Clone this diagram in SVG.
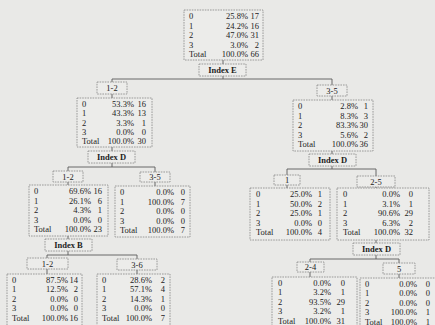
<svg xmlns="http://www.w3.org/2000/svg" width="435" height="325" viewBox="0 0 435 325">
  <style>
    .bg { fill: #e9e9e7; }
    .tbl, .lbl, .idx { fill: #ececea; stroke: #858585; stroke-width: 0.8; stroke-dasharray: 1.6 1; }
    .ln { stroke: #5a5a5a; stroke-width: 0.9; fill: none; }
    text { font-family: "Liberation Serif", "Times New Roman", serif; font-size: 8.5px; fill: #222; }
    .r { text-anchor: end; }
    .m { text-anchor: middle; }
    .b { font-weight: bold; }
  </style>
  <rect class="bg" x="0" y="0" width="435" height="325"/>

  <!-- connectors -->
  <g id="connectors">
    <path class="ln" d="M223 60V64M223 76V79M112 79H332M112 79V82M332 79V85"/>
    <path class="ln" d="M112 94V98M112 147V151M112 163V167M68 167H155M68 167V171M155 167V172M68 182V185M155 182V186"/>
    <path class="ln" d="M68 236V239M68 251V255M47 255H137M47 255V258M137 255V259M47 269V274M137 270V274"/>
    <path class="ln" d="M332 96V100M332 151V154M332 166V169M287 169H376M287 169V175M376 169V176M287 185V188M376 187V188"/>
    <path class="ln" d="M376 240V243M376 255V259M310 259H399M310 259V262M399 259V263M310 272V277M399 274V278"/>
  </g>

  <!-- root -->
  <g id="node-root">
    <rect class="tbl" x="184" y="10" width="79" height="50"/>
    <text x="189" y="19">0</text><text class="r" x="248" y="19">25.8%</text><text class="r" x="259" y="19">17</text>
    <text x="189" y="28.5">1</text><text class="r" x="248" y="28.5">24.2%</text><text class="r" x="259" y="28.5">16</text>
    <text x="189" y="38">2</text><text class="r" x="248" y="38">47.0%</text><text class="r" x="259" y="38">31</text>
    <text x="189" y="47.5">3</text><text class="r" x="248" y="47.5">3.0%</text><text class="r" x="259" y="47.5">2</text>
    <text x="189" y="57">Total</text><text class="r" x="248" y="57">100.0%</text><text class="r" x="259" y="57">66</text>
  </g>
  <g id="split-root">
    <rect class="idx" x="199" y="64" width="47" height="12"/>
    <text class="m b" x="222.5" y="73">Index E</text>
  </g>

  <!-- Index E = 1-2 -->
  <g id="node-e12">
    <rect class="lbl" x="97" y="82" width="30" height="12"/>
    <text class="m" x="112" y="91">1-2</text>
    <rect class="tbl" x="77" y="98" width="75" height="49"/>
    <text x="82" y="107">0</text><text class="r" x="134" y="107">53.3%</text><text class="r" x="146" y="107">16</text>
    <text x="82" y="116.3">1</text><text class="r" x="134" y="116.3">43.3%</text><text class="r" x="146" y="116.3">13</text>
    <text x="82" y="125.6">2</text><text class="r" x="134" y="125.6">3.3%</text><text class="r" x="146" y="125.6">1</text>
    <text x="82" y="134.9">3</text><text class="r" x="134" y="134.9">0.0%</text><text class="r" x="146" y="134.9">0</text>
    <text x="82" y="144.2">Total</text><text class="r" x="134" y="144.2">100.0%</text><text class="r" x="146" y="144.2">30</text>
    <rect class="idx" x="88" y="151" width="47" height="12"/>
    <text class="m b" x="111.5" y="160">Index D</text>
  </g>

  <!-- Index E = 3-5 -->
  <g id="node-e35">
    <rect class="lbl" x="317" y="85" width="30" height="11"/>
    <text class="m" x="332" y="93.5">3-5</text>
    <rect class="tbl" x="293" y="100" width="80" height="51"/>
    <text x="298" y="109">0</text><text class="r" x="358" y="109">2.8%</text><text class="r" x="368" y="109">1</text>
    <text x="298" y="118.5">1</text><text class="r" x="358" y="118.5">8.3%</text><text class="r" x="368" y="118.5">3</text>
    <text x="298" y="128">2</text><text class="r" x="358" y="128">83.3%</text><text class="r" x="368" y="128">30</text>
    <text x="298" y="137.5">3</text><text class="r" x="358" y="137.5">5.6%</text><text class="r" x="368" y="137.5">2</text>
    <text x="298" y="147">Total</text><text class="r" x="358" y="147">100.0%</text><text class="r" x="368" y="147">36</text>
    <rect class="idx" x="309" y="154" width="47" height="12"/>
    <text class="m b" x="332.5" y="163">Index D</text>
  </g>

  <!-- Index D = 1-2 (left branch) -->
  <g id="node-d12">
    <rect class="lbl" x="53" y="171" width="30" height="11"/>
    <text class="m" x="68" y="179.5">1-2</text>
    <rect class="tbl" x="29" y="185" width="79" height="51"/>
    <text x="34" y="194">0</text><text class="r" x="91" y="194">69.6%</text><text class="r" x="102" y="194">16</text>
    <text x="34" y="203.5">1</text><text class="r" x="91" y="203.5">26.1%</text><text class="r" x="102" y="203.5">6</text>
    <text x="34" y="213">2</text><text class="r" x="91" y="213">4.3%</text><text class="r" x="102" y="213">1</text>
    <text x="34" y="222.5">3</text><text class="r" x="91" y="222.5">0.0%</text><text class="r" x="102" y="222.5">0</text>
    <text x="34" y="232">Total</text><text class="r" x="91" y="232">100.0%</text><text class="r" x="102" y="232">23</text>
    <rect class="idx" x="45" y="239" width="47" height="12"/>
    <text class="m b" x="68.5" y="248">Index B</text>
  </g>

  <!-- Index D = 3-5 (left branch) -->
  <g id="node-d35">
    <rect class="lbl" x="140" y="172" width="30" height="10"/>
    <text class="m" x="155" y="180">3-5</text>
    <rect class="tbl" x="115" y="186" width="75" height="51"/>
    <text x="120" y="195">0</text><text class="r" x="174" y="195">0.0%</text><text class="r" x="185" y="195">0</text>
    <text x="120" y="204.5">1</text><text class="r" x="174" y="204.5">100.0%</text><text class="r" x="185" y="204.5">7</text>
    <text x="120" y="214">2</text><text class="r" x="174" y="214">0.0%</text><text class="r" x="185" y="214">0</text>
    <text x="120" y="223.5">3</text><text class="r" x="174" y="223.5">0.0%</text><text class="r" x="185" y="223.5">0</text>
    <text x="120" y="233">Total</text><text class="r" x="174" y="233">100.0%</text><text class="r" x="185" y="233">7</text>
  </g>

  <!-- Index B = 1-2 -->
  <g id="node-b12">
    <rect class="lbl" x="27" y="258" width="41" height="11"/>
    <text class="m" x="47.5" y="266.5">1-2</text>
    <rect class="tbl" x="7" y="274" width="75" height="52"/>
    <text x="12" y="282.5">0</text><text class="r" x="68" y="282.5">87.5%</text><text class="r" x="78" y="282.5">14</text>
    <text x="12" y="292">1</text><text class="r" x="68" y="292">12.5%</text><text class="r" x="78" y="292">2</text>
    <text x="12" y="301.5">2</text><text class="r" x="68" y="301.5">0.0%</text><text class="r" x="78" y="301.5">0</text>
    <text x="12" y="311">3</text><text class="r" x="68" y="311">0.0%</text><text class="r" x="78" y="311">0</text>
    <text x="12" y="320.5">Total</text><text class="r" x="68" y="320.5">100.0%</text><text class="r" x="78" y="320.5">16</text>
  </g>

  <!-- Index B = 3-6 -->
  <g id="node-b36">
    <rect class="lbl" x="117" y="259" width="40" height="11"/>
    <text class="m" x="137" y="267.5">3-6</text>
    <rect class="tbl" x="97" y="274" width="73" height="52"/>
    <text x="102" y="282.5">0</text><text class="r" x="152" y="282.5">28.6%</text><text class="r" x="165" y="282.5">2</text>
    <text x="102" y="292">1</text><text class="r" x="152" y="292">57.1%</text><text class="r" x="165" y="292">4</text>
    <text x="102" y="301.5">2</text><text class="r" x="152" y="301.5">14.3%</text><text class="r" x="165" y="301.5">1</text>
    <text x="102" y="311">3</text><text class="r" x="152" y="311">0.0%</text><text class="r" x="165" y="311">0</text>
    <text x="102" y="320.5">Total</text><text class="r" x="152" y="320.5">100.0%</text><text class="r" x="165" y="320.5">7</text>
  </g>

  <!-- Index D = 1 (right branch) -->
  <g id="node-d1">
    <rect class="lbl" x="274" y="175" width="26" height="10"/>
    <text class="m" x="287" y="183">1</text>
    <rect class="tbl" x="250" y="188" width="80" height="52"/>
    <text x="256" y="197">0</text><text class="r" x="312" y="197">25.0%</text><text class="r" x="322" y="197">1</text>
    <text x="256" y="206.5">1</text><text class="r" x="312" y="206.5">50.0%</text><text class="r" x="322" y="206.5">2</text>
    <text x="256" y="216">2</text><text class="r" x="312" y="216">25.0%</text><text class="r" x="322" y="216">1</text>
    <text x="256" y="225.5">3</text><text class="r" x="312" y="225.5">0.0%</text><text class="r" x="322" y="225.5">0</text>
    <text x="256" y="235">Total</text><text class="r" x="312" y="235">100.0%</text><text class="r" x="322" y="235">4</text>
  </g>

  <!-- Index D = 2-5 (right branch) -->
  <g id="node-d25">
    <rect class="lbl" x="357" y="176" width="38" height="11"/>
    <text class="m" x="376" y="184.5">2-5</text>
    <rect class="tbl" x="337" y="188" width="92" height="52"/>
    <text x="343" y="197">0</text><text class="r" x="400" y="197">0.0%</text><text class="r" x="413" y="197">0</text>
    <text x="343" y="206.5">1</text><text class="r" x="400" y="206.5">3.1%</text><text class="r" x="413" y="206.5">1</text>
    <text x="343" y="216">2</text><text class="r" x="400" y="216">90.6%</text><text class="r" x="413" y="216">29</text>
    <text x="343" y="225.5">3</text><text class="r" x="400" y="225.5">6.3%</text><text class="r" x="413" y="225.5">2</text>
    <text x="343" y="235">Total</text><text class="r" x="400" y="235">100.0%</text><text class="r" x="413" y="235">32</text>
    <rect class="idx" x="353" y="243" width="47" height="12"/>
    <text class="m b" x="376.5" y="252">Index D</text>
  </g>

  <!-- Index D = 2-4 -->
  <g id="node-d24">
    <rect class="lbl" x="297" y="262" width="27" height="10"/>
    <text class="m" x="310.5" y="270">2-4</text>
    <rect class="tbl" x="272" y="277" width="85" height="50"/>
    <text x="278" y="285.5">0</text><text class="r" x="331" y="285.5">0.0%</text><text class="r" x="345" y="285.5">0</text>
    <text x="278" y="295">1</text><text class="r" x="331" y="295">3.2%</text><text class="r" x="345" y="295">1</text>
    <text x="278" y="304.5">2</text><text class="r" x="331" y="304.5">93.5%</text><text class="r" x="345" y="304.5">29</text>
    <text x="278" y="314">3</text><text class="r" x="331" y="314">3.2%</text><text class="r" x="345" y="314">1</text>
    <text x="278" y="323.5">Total</text><text class="r" x="331" y="323.5">100.0%</text><text class="r" x="345" y="323.5">31</text>
  </g>

  <!-- Index D = 5 -->
  <g id="node-d5">
    <rect class="lbl" x="383" y="263" width="32" height="11"/>
    <text class="m" x="399" y="271.5">5</text>
    <rect class="tbl" x="360" y="278" width="80" height="50"/>
    <text x="365" y="286.5">0</text><text class="r" x="417" y="286.5">0.0%</text><text class="r" x="430" y="286.5">0</text>
    <text x="365" y="296">1</text><text class="r" x="417" y="296">0.0%</text><text class="r" x="430" y="296">0</text>
    <text x="365" y="305.5">2</text><text class="r" x="417" y="305.5">0.0%</text><text class="r" x="430" y="305.5">0</text>
    <text x="365" y="315">3</text><text class="r" x="417" y="315">100.0%</text><text class="r" x="430" y="315">1</text>
    <text x="365" y="324.5">Total</text><text class="r" x="417" y="324.5">100.0%</text><text class="r" x="430" y="324.5">1</text>
  </g>
</svg>
